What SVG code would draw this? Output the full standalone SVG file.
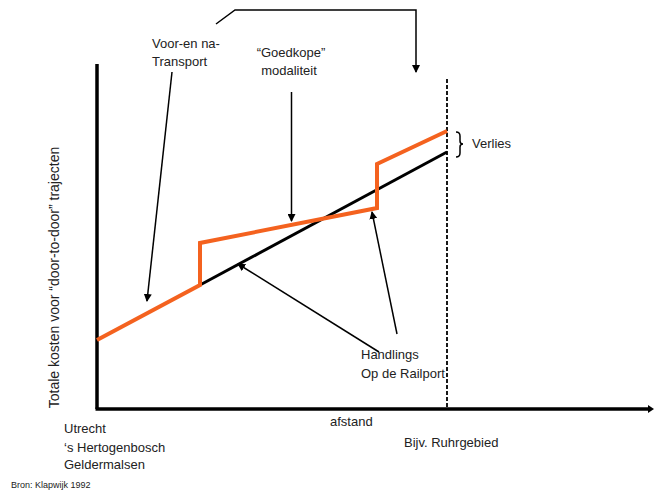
<svg xmlns="http://www.w3.org/2000/svg" width="654" height="493" viewBox="0 0 654 493">
<style>
text{font-family:"Liberation Sans",Arial,sans-serif;font-size:13px;fill:#222}
.ax{stroke:#000;stroke-width:3.5;fill:none}
.ln{stroke:#000;stroke-width:1.5;fill:none}
.cost{stroke:#000;stroke-width:3;fill:none}
.or{stroke:#f4621f;stroke-width:4;fill:none;stroke-linejoin:miter}
</style>
<defs>
<marker id="ah" markerWidth="8" markerHeight="8" refX="7" refY="4" orient="auto" markerUnits="userSpaceOnUse">
<path d="M0,0 L8,4 L0,8 z" fill="#000"/>
</marker>
<marker id="axh" markerWidth="6" markerHeight="8" refX="3" refY="4" orient="auto" markerUnits="userSpaceOnUse">
<path d="M0,0 L6,4 L0,8 z" fill="#000"/>
</marker>
</defs>
<g id="axes">
<line class="ax" x1="97" y1="64" x2="97" y2="409"/>
<line class="ax" x1="95.5" y1="409" x2="651" y2="409" marker-end="url(#axh)"/>
<line x1="447" y1="79" x2="447" y2="409" stroke="#000" stroke-width="1.8" stroke-dasharray="4,2"/>
</g>
<g id="curves">
<polyline class="cost" points="200,285 447,152"/>
<polyline class="or" points="97,340 200,285 200,243 377,208 377,164 447,131"/>
</g>
<g id="connectors">
<polyline class="ln" points="216,24 235,10 416,10 416,72" marker-end="url(#ah)"/>
<line class="ln" x1="172" y1="72" x2="147" y2="301" marker-end="url(#ah)"/>
<line class="ln" x1="291.5" y1="92" x2="291.5" y2="221" marker-end="url(#ah)"/>
<line class="ln" x1="379" y1="352" x2="238" y2="264" marker-end="url(#ah)"/>
<line class="ln" x1="397" y1="334" x2="372" y2="212" marker-end="url(#ah)"/>
<path class="ln" d="M456,132 Q460,132 460,136 L460,141 Q460,144 463,144 Q460,144 460,147 L460,153 Q460,157 456,157"/>
</g>
<g id="label-voor">
<text x="152" y="48">Voor-en na-</text>
<text x="152" y="66">Transport</text>
</g>
<g id="label-goedkope">
<text x="291" y="57" text-anchor="middle">“Goedkope”</text>
<text x="289" y="75" text-anchor="middle">modaliteit</text>
</g>
<g id="label-verlies"><text x="472" y="148">Verlies</text></g>
<g id="label-handlings">
<text x="361" y="359">Handlings</text>
<text x="361" y="378">Op de Railport</text>
</g>
<g id="label-y"><text transform="translate(58.5,277.5) rotate(-90)" text-anchor="middle" style="font-size:14px">Totale kosten voor “door-to-door” trajecten</text></g>
<g id="label-x"><text x="330" y="426">afstand</text></g>
<g id="label-origin">
<text x="64" y="433">Utrecht</text>
<text x="64" y="452">‘s Hertogenbosch</text>
<text x="64" y="469">Geldermalsen</text>
</g>
<g id="label-ruhr"><text x="404" y="447">Bijv. Ruhrgebied</text></g>
<g id="source"><text x="11" y="488" style="font-size:9px">Bron: Klapwijk 1992</text></g>
</svg>
